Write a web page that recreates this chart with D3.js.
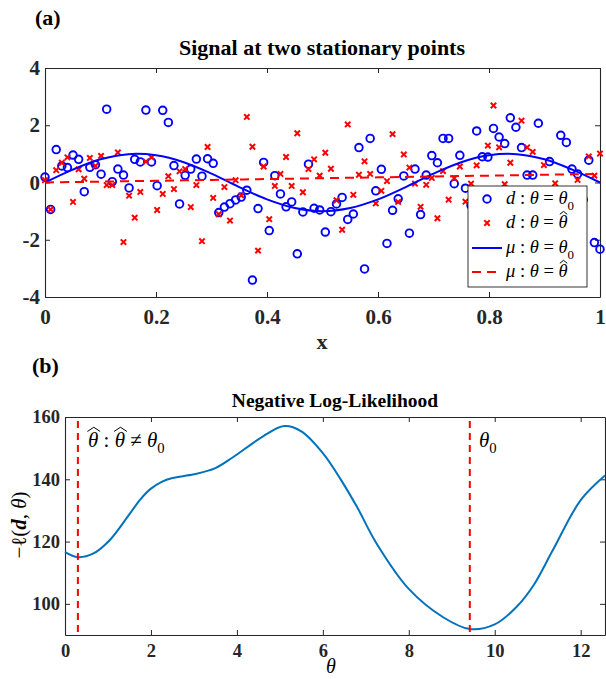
<!DOCTYPE html>
<html>
<head>
<meta charset="utf-8">
<script src="https://cdn.jsdelivr.net/npm/d3@7/dist/d3.min.js"></script>
<style>
  body { margin: 0; background: #fff; }
  text { font-family: "Liberation Serif", "Times New Roman", serif; }
</style>
</head>
<body>
<div id="chart"></div>
<script>
// ---- panel (a) data : observations at x = linspace(0,1,100) ----
var dTrue = [0.19, -0.94, 1.15, 0.58, 0.52, 0.96, 0.81, -0.32, 0.53, 0.62,
  0.29, 2.56, 0.03, 0.47, 0.26, -0.19, 0.81, 0.72, 2.53, 0.72,
  -0.11, 2.52, 2.10, 0.59, -0.75, 0.25, 0.47, 0.82, 0.22, 0.83,
  0.67, -1.05, -0.86, -0.74, -0.61, -0.51, -0.27, -3.41, -0.91, 0.70,
  -1.68, 0.24, -0.40, -0.85, -0.68, -2.49, -1.03, 0.64, -0.90, -0.96,
  -1.73, -1.02, -0.75, -0.52, -1.29, -1.10, 1.22, -3.02, 1.54, -0.29,
  0.46, -2.13, -0.97, -0.57, 0.23, -1.77, 0.47, -1.12, 0.26, 0.94,
  0.69, 1.54, 1.54, -0.04, 0.95, -0.20, -0.80, 1.80, 0.90, 0.89,
  1.89, 1.59, 1.36, 2.26, 1.93, 1.22, 0.26, 0.26, 2.07, -0.50,
  0.73, -1.00, 1.65, 1.40, 0.47, 0.30, -0.60, 0.78, -2.10, -2.33];
var dHat = [0.08, -0.94, 0.43, 0.69, 0.88, -0.68, 0.46, 0.13, 0.86, 0.58,
  0.93, -0.09, -0.09, 1.05, -2.08, -0.46, -1.23, -0.33, 0.73, 0.88,
  -0.96, -0.40, 0.22, -0.23, 0.39, 0.47, -0.86, -0.09, -2.05, 1.24,
  -0.54, -1.11, -0.16, -1.33, 0.08, -0.45, 2.29, 1.25, -2.38, 0.56,
  -1.28, -0.12, 0.30, 0.89, -0.12, 1.72, -0.34, 0.47, 0.81, 0.24,
  1.04, 0.48, -0.62, -1.65, 2.03, -0.43, 0.27, 0.74, 0.30, -0.73,
  -0.29, 0.05, 1.69, -0.68, 0.98, 0.52, -0.04, -0.85, -0.08, 0.16,
  -1.25, 0.40, -0.60, 0.15, 0.56, -0.67, -0.04, 0.60, -0.90, 1.29,
  2.69, 1.23, -0.06, 0.69, -1.20, 2.16, 1.23, 1.07, -0.50, 0.61,
  -1.40, -0.03, -0.70, -0.30, -1.10, 0.09, -0.40, 0.91, 0.24, 1.01];

// mean curves
var muX = [0, 0.05, 0.1, 0.15, 0.2, 0.25, 0.3, 0.35, 0.4, 0.45, 0.5,
  0.55, 0.6, 0.65, 0.7, 0.75, 0.8, 0.85, 0.9, 0.95, 1];
var muTrue = [0, 0.45, 0.81, 0.99, 0.95, 0.71, 0.31, -0.16, -0.59, -0.89, -1.0,
  -0.89, -0.59, -0.16, 0.31, 0.71, 0.95, 0.99, 0.81, 0.45, 0];
var muHat = [0, 0.015, 0.03, 0.045, 0.06, 0.075, 0.09, 0.105, 0.12, 0.135, 0.15,
  0.165, 0.18, 0.195, 0.21, 0.225, 0.24, 0.255, 0.27, 0.285, 0.30];

var aXTicks = [0, 0.2, 0.4, 0.6, 0.8, 1];
var aXLabels = ["0", "0.2", "0.4", "0.6", "0.8", "1"];
var aYTicks = [-4, -2, 0, 2, 4];

// ---- panel (b) data ----
var thetaVals = [0, 0.3, 0.65, 1.05, 1.5, 1.75, 2.0, 2.25, 2.5, 3.0, 3.5, 3.9, 4.6, 5.1, 5.5, 6.0,
  6.4, 6.8, 7.25, 8.0, 8.8, 9.42, 10.0, 10.5, 10.9, 11.35, 12.0, 12.566];
var nllVals = [116.6, 115.0, 116.1, 120.6, 128.8, 133.5, 137.0, 139.2, 140.4, 141.6, 143.6, 147.0, 153.7, 157.1, 155.4, 148.4,
  140.3, 131.0, 119.4, 104.8, 95.7, 91.9, 93.4, 98.9, 105.9, 117.2, 133.3, 141.2];
var thetaHat = 0.3;
var theta0 = 9.42;
var bXTicks = [0, 2, 4, 6, 8, 10, 12];
var bYTicks = [100, 120, 140, 160];

var axisCol = "#262626";
var serif = "Liberation Serif";
var svg = d3.select("#chart").append("svg")
  .attr("width", 606).attr("height", 679)
  .style("display", "block");

// math-ish text from pieces: [string, italic, subscript, bold, hat]
function mathText(parent, x, y, size, parts) {
  var t = parent.append("text").attr("x", x).attr("y", y)
    .attr("font-family", serif)
    .style("font-size", size + "px").attr("fill", "#000");
  var sub = false;
  var hats = [];
  parts.forEach(function (p) {
    var s = t.append("tspan").text(p[0]);
    if (p[1]) s.style("font-style", "italic");
    if (p[3]) s.style("font-weight", "bold");
    if (p[2] && !sub) { s.attr("dy", size * 0.3).style("font-size", (size * 0.7) + "px"); sub = true; }
    else if (!p[2] && sub) { s.attr("dy", -size * 0.3); sub = false; }
    if (p[4]) hats.push([s, p[4]]);
  });
  hats.forEach(function (h) {
    var bb = h[0].node().getBBox();
    var cx = bb.x + bb.width * 0.56;
    var top = y - size * 0.74;
    var w = h[1] == "wide" ? bb.width * 0.62 : size * 0.2;
    var ht = h[1] == "wide" ? size * 0.2 : size * 0.16;
    parent.append("path")
      .attr("d", "M" + (cx - w) + "," + top + "L" + cx + "," + (top - ht) + "L" + (cx + w) + "," + top)
      .attr("fill", "none").attr("stroke", "#000").attr("stroke-width", 1);
  });
  return t;
}

function styleAxis(g, fs) {
  g.attr("font-family", serif);
  g.select(".domain").attr("stroke", axisCol).attr("stroke-width", 1.1);
  g.selectAll(".tick line").attr("stroke", axisCol).attr("stroke-width", 1);
  g.selectAll(".tick text").attr("fill", axisCol)
    .attr("font-family", serif)
    .style("font-family", serif)
    .style("font-size", fs + "px").style("font-weight", "bold");
}

// ================= panel (a) =================
var A = { left: 45, right: 600, top: 68, bottom: 297 };
var ax = d3.scaleLinear().domain([0, 1]).range([A.left, A.right]);
var ay = d3.scaleLinear().domain([-4, 4]).range([A.bottom, A.top]);
var xs = d3.range(dTrue.length).map(function (i) { return i / (dTrue.length - 1); });

svg.append("text").attr("x", 35).attr("y", 25)
  .style("font-size", "22px").style("font-weight", "bold").text("(a)");
svg.append("text").attr("x", 322).attr("y", 55)
  .attr("text-anchor", "middle")
  .style("font-size", "22px").style("font-weight", "bold")
  .text("Signal at two stationary points");

var gA = svg.append("g");
gA.append("g").attr("transform", "translate(0," + A.bottom + ")")
  .call(d3.axisBottom(ax).tickValues(aXTicks).tickSizeInner(-5).tickSizeOuter(0).tickPadding(12)
    .tickFormat(function (d, i) { return aXLabels[i]; }))
  .call(styleAxis, 21);
gA.append("g").attr("transform", "translate(0," + A.top + ")")
  .call(d3.axisTop(ax).tickValues(aXTicks).tickSizeInner(-5).tickSizeOuter(0).tickFormat(""))
  .call(styleAxis, 21);
gA.append("g").attr("transform", "translate(" + A.left + ",0)")
  .call(d3.axisLeft(ay).tickValues(aYTicks).tickSizeInner(-5).tickSizeOuter(0).tickPadding(5)
    .tickFormat(function (d) { return String(d); }))
  .call(styleAxis, 21);
gA.append("g").attr("transform", "translate(" + A.right + ",0)")
  .call(d3.axisRight(ay).tickValues(aYTicks).tickSizeInner(-5).tickSizeOuter(0).tickFormat(""))
  .call(styleAxis, 21);

svg.append("text").attr("x", 322).attr("y", 349)
  .attr("text-anchor", "middle").attr("fill", axisCol)
  .style("font-size", "22px").style("font-weight", "bold").text("x");

// observations
gA.append("g").selectAll("circle").data(dTrue).enter().append("circle")
  .attr("cx", function (d, i) { return ax(xs[i]); })
  .attr("cy", function (d) { return ay(d); })
  .attr("r", 3.8)
  .attr("fill", "none").attr("stroke", "#0000ff").attr("stroke-width", 1.9);

gA.append("g").selectAll("path").data(dHat).enter().append("path")
  .attr("d", "M-2.7,-2.7L2.7,2.7M-2.7,2.7L2.7,-2.7")
  .attr("transform", function (d, i) { return "translate(" + ax(xs[i]) + "," + ay(d) + ")"; })
  .attr("stroke", "#ff0000").attr("stroke-width", 2);

var muLine = d3.line()
  .x(function (d, i) { return ax(muX[i]); })
  .y(function (d) { return ay(d); })
  .curve(d3.curveCatmullRom);

gA.append("path").datum(muTrue).attr("d", muLine)
  .attr("fill", "none").attr("stroke", "#0000ff").attr("stroke-width", 2);
gA.append("path").datum(muHat).attr("d", muLine)
  .attr("fill", "none").attr("stroke", "#ff0000").attr("stroke-width", 2)
  .attr("stroke-dasharray", "9,6");

// legend
var lg = gA.append("g").attr("transform", "translate(468,186)");
lg.append("rect").attr("width", 119).attr("height", 101)
  .attr("fill", "#fff").attr("stroke", "#000").attr("stroke-width", 0.8);
var rowsY = [13, 37, 62, 86];
lg.append("circle").attr("cx", 19).attr("cy", rowsY[0]).attr("r", 3.8)
  .attr("fill", "none").attr("stroke", "#0000ff").attr("stroke-width", 1.9);
lg.append("path").attr("d", "M-2.7,-2.7L2.7,2.7M-2.7,2.7L2.7,-2.7")
  .attr("transform", "translate(19," + rowsY[1] + ")")
  .attr("stroke", "#ff0000").attr("stroke-width", 2);
lg.append("line").attr("x1", 4).attr("x2", 34).attr("y1", rowsY[2]).attr("y2", rowsY[2])
  .attr("stroke", "#0000ff").attr("stroke-width", 2);
lg.append("line").attr("x1", 4).attr("x2", 34).attr("y1", rowsY[3]).attr("y2", rowsY[3])
  .attr("stroke", "#ff0000").attr("stroke-width", 2).attr("stroke-dasharray", "9,6");

var legTexts = [
  [["d", true], [" : ", false], ["θ", true], [" = ", false], ["θ", true], ["0", false, true]],
  [["d", true], [" : ", false], ["θ", true], [" = ", false], ["θ", true, false, false, "hat"]],
  [["μ", true], [" : ", false], ["θ", true], [" = ", false], ["θ", true], ["0", false, true]],
  [["μ", true], [" : ", false], ["θ", true], [" = ", false], ["θ", true, false, false, "hat"]]
];
legTexts.forEach(function (p, k) {
  mathText(lg, 38, rowsY[k] + 5, 18.5, p);
});

// ================= panel (b) =================
var B = { left: 65, right: 605, top: 417, bottom: 635 };
var bx = d3.scaleLinear().domain([0, 12.566]).range([B.left, B.right]);
var by = d3.scaleLinear().domain([90, 160]).range([B.bottom, B.top]);

svg.append("text").attr("x", 32).attr("y", 373)
  .style("font-size", "22px").style("font-weight", "bold").text("(b)");
svg.append("text").attr("x", 335).attr("y", 407)
  .attr("text-anchor", "middle")
  .style("font-size", "19.5px").style("font-weight", "bold")
  .text("Negative Log-Likelihood");

var gB = svg.append("g");
gB.append("g").attr("transform", "translate(0," + B.bottom + ")")
  .call(d3.axisBottom(bx).tickValues(bXTicks).tickSizeInner(-5).tickSizeOuter(0).tickPadding(9)
    .tickFormat(function (d) { return String(d); }))
  .call(styleAxis, 18.5);
gB.append("g").attr("transform", "translate(0," + B.top + ")")
  .call(d3.axisTop(bx).tickValues(bXTicks).tickSizeInner(-5).tickSizeOuter(0).tickFormat(""))
  .call(styleAxis, 18.5);
gB.append("g").attr("transform", "translate(" + B.left + ",0)")
  .call(d3.axisLeft(by).tickValues(bYTicks).tickSizeInner(-5).tickSizeOuter(0).tickPadding(5)
    .tickFormat(function (d) { return String(d); }))
  .call(styleAxis, 18.5);
gB.append("g").attr("transform", "translate(" + B.right + ",0)")
  .call(d3.axisRight(by).tickValues(bYTicks).tickSizeInner(-5).tickSizeOuter(0).tickFormat(""))
  .call(styleAxis, 18.5);

var nllLine = d3.line()
  .x(function (d, i) { return bx(thetaVals[i]); })
  .y(function (d) { return by(d); })
  .curve(d3.curveCatmullRom.alpha(0.5));
gB.append("path").datum(nllVals).attr("d", nllLine)
  .attr("fill", "none").attr("stroke", "#0072bd").attr("stroke-width", 2);

[thetaHat, theta0].forEach(function (t) {
  gB.append("line").attr("x1", bx(t)).attr("x2", bx(t))
    .attr("y1", B.top + 4).attr("y2", B.bottom)
    .attr("stroke", "#ff0000").attr("stroke-width", 2).attr("stroke-dasharray", "7,5");
});

mathText(gB, 88, 447, 21, [["θ", true, false, false, "wide"], [" : ", false],
  ["θ", true, false, false, "wide"], [" ≠ ", false], ["θ", true], ["0", false, true]]);
mathText(gB, 479, 447, 21, [["θ", true], ["0", false, true]]);

// axis labels
mathText(svg, 331, 673, 20, [["θ", true]]).attr("text-anchor", "middle");
mathText(svg, 0, 0, 21, [["−ℓ(", false], ["d", true, false, true], [", ", false], ["θ", true], [")", false]])
  .attr("text-anchor", "middle")
  .attr("transform", "translate(26,525) rotate(-90)");
</script>
</body>
</html>
